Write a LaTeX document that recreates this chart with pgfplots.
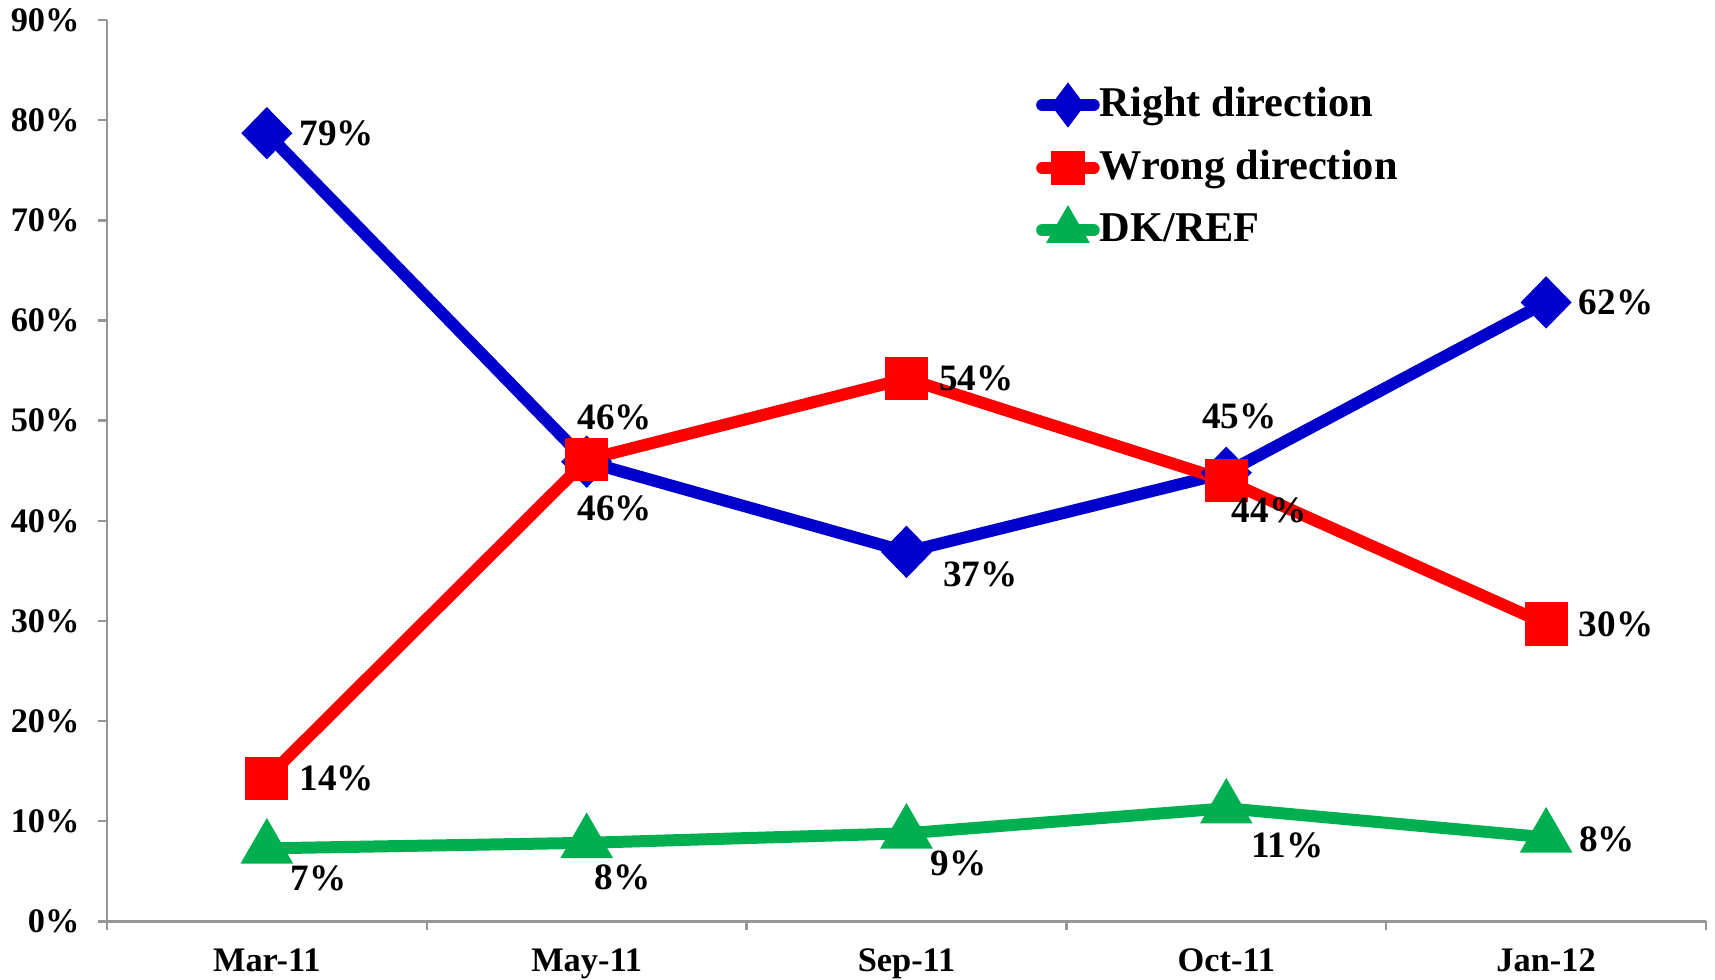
\documentclass[border=0pt]{standalone}
\usepackage{pgfplots}
\usepackage{pgfplotstable}
\pgfplotsset{compat=1.18}
\usepackage{fontspec}
\setmainfont{Liberation Serif}

\definecolor{rdblue}{RGB}{0,0,204}
\definecolor{wrred}{RGB}{255,0,0}
\definecolor{dkgreen}{RGB}{0,176,80}
\definecolor{axgray}{RGB}{150,150,150}

% x y label dx dy (label offsets in pt)
\pgfplotstableread{
x y    lab dx   dy
0 78.7 79  17.5 0
1 45.9 46  7    11
2 36.9 37  18.5 -5.75
3 44.8 45  3.3  14
4 61.8 62  17.5 0
}\rightdir
\pgfplotstableread{
x y    lab dx   dy
0 14.3 14  17.5 0
1 46.1 46  7    -12.3
2 54.2 54  17.5 0
3 44.0 44  10.7 -7.4
4 29.7 30  17.5 0
}\wrongdir
\pgfplotstableread{
x y    lab dx   dy
0 7.3  7   13   -7.4
1 7.85 8   9    -8.75
2 8.8  9   13   -7.4
3 11.3 11  15.3 -9.3
4 8.4  8   15.3 -0.5
}\dkref

\begin{document}
\begin{tikzpicture}
\begin{axis}[
  scale only axis,
  width=400pt, height=225.5pt,
  xmin=-0.5, xmax=4.5, ymin=0, ymax=90,
  xtick={0,...,4},
  xticklabels={Mar-11,May-11,Sep-11,Oct-11,Jan-12},
  minor xtick={-0.5,0.5,...,4.5},
  ytick={0,10,...,90},
  yticklabel={\pgfmathprintnumber{\tick}\%},
  /pgf/number format/assume math mode=true,
  axis x line*=bottom, axis y line*=left,
  axis line style={axgray, line width=0.6pt},
  tick align=outside,
  major tick length=2.25pt, minor tick length=2.25pt,
  tick style={axgray, line width=0.6pt},
  major x tick style={draw=none},
  ticklabel style={font=\fontsize{8.6}{10}\selectfont\bfseries, black, inner sep=0pt},
  xticklabel style={yshift=-4.4pt},
  yticklabel style={xshift=-4.4pt},
  clip=false,
  every axis plot/.append style={line width=3pt},
  nodes near coords={\pgfplotspointmeta\%},
  point meta=explicit symbolic,
  visualization depends on={\thisrow{dx} \as \dx},
  visualization depends on={\thisrow{dy} \as \dy},
  every node near coord/.append style={anchor=center, xshift=\dx pt, yshift=\dy pt,
    font=\fontsize{9.3}{11}\selectfont\bfseries, text=black},
  legend style={draw=none, fill=none, at={(rel axis cs:0.5806,0.935)}, anchor=north west,
    font=\fontsize{10.6}{12}\selectfont\bfseries, row sep=2.9pt, inner sep=0pt,
    nodes={inner xsep=0pt}, column sep=0pt},
  legend cell align=left,
  legend image code/.code={
    \draw[#1, line cap=round] (0pt,0pt) -- (12.9pt,0pt);
    \draw[#1, mark repeat=2, mark phase=2, mark options={solid, scale=0.72}] plot coordinates {(0pt,0pt) (6.45pt,0pt) (12.9pt,0pt)};
  },
]
\addplot[color=rdblue, mark=diamond*, mark size=4.4pt, mark options={solid, xscale=1.3}] table[x=x, y=y, meta=lab] {\rightdir};
\addlegendentry{Right direction}
\addplot[color=wrred, mark=square*, mark size=3.9pt, mark options={solid}] table[x=x, y=y, meta=lab] {\wrongdir};
\addlegendentry{Wrong direction}
\addplot[color=dkgreen, mark=triangle*, mark size=4.6pt, mark options={solid}] table[x=x, y=y, meta=lab] {\dkref};
\addlegendentry{DK/REF}
\end{axis}
\pgfresetboundingbox
\path ([shift={(-26.75pt,-14.5pt)}]current axis.south west) rectangle ([shift={(2.25pt,5pt)}]current axis.north east);
\end{tikzpicture}
\end{document}
